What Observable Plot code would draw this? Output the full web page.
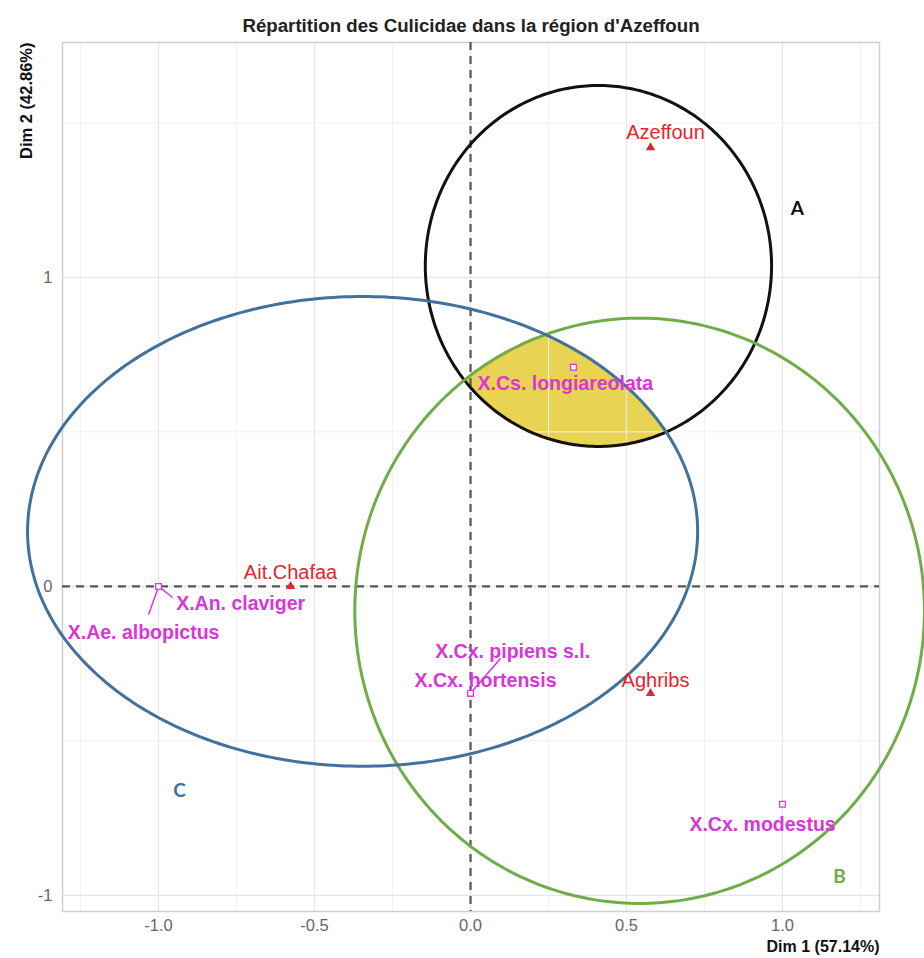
<!DOCTYPE html>
<html><head><meta charset="utf-8">
<script src="https://cdn.jsdelivr.net/npm/d3@7"></script>
<script src="https://cdn.jsdelivr.net/npm/@observablehq/plot@0.6"></script>
<style>body{margin:0;background:#fff}</style>
</head><body><div id="chart"></div>
<script>
// ---- Data ----
const titleText = "Répartition des Culicidae dans la région d'Azeffoun";
const xTitle = "Dim 1 (57.14%)";
const yTitle = "Dim 2 (42.86%)";

const xTicks = [-1, -0.5, 0, 0.5, 1];
const xMinor = [-1.25, -0.75, -0.25, 0.25, 0.75, 1.25];
const yTicks = [-1, 0, 1];
const yMinor = [-0.5, 0.5, 1.5];

const siteNames = ["Azeffoun", "Ait.Chafaa", "Aghribs"];
const siteX = [0.577, -0.577, 0.577];
const siteY = [1.42, 0.0, -0.346];
const siteLabelX = [0.625, -0.577, 0.593];
const siteLabelY = [1.469, 0.045, -0.304];

const speciesNames = ["X.Cs. longiareolata", "X.An. claviger", "X.Ae. albopictus", "X.Cx. pipiens s.l.", "X.Cx. hortensis", "X.Cx. modestus"];
const speciesX = [0.33, -1, -1, 0, 0, 1];
const speciesY = [0.709, 0, 0, -0.346, -0.346, -0.705];
const speciesLabelX = [0.304, -0.737, -1.048, 0.135, 0.048, 0.936];
const speciesLabelY = [0.657, -0.055, -0.149, -0.210, -0.304, -0.770];
const leaderEndX = [null, -0.955, -1.032, 0.096, null, null];
const leaderEndY = [null, -0.036, -0.091, -0.233, null, null];

const groupNames = ["A", "B", "C"];
const ellipseCX = [0.41, 0.542, -0.346];
const ellipseCY = [1.037, -0.079, 0.178];
const ellipseRX = [0.555, 0.913, 1.074];
const ellipseRY = [0.584, 0.947, 0.76];
const groupLabelX = [1.048, 1.183, -0.933];
const groupLabelY = [1.223, -0.939, -0.663];

const xDomain = [-1.308, 1.311];
const yDomain = [-1.052, 1.76];

// ---- Styles ----
const groupColors = ["#111111", "#70ad47", "#41719c"];
const red = "#e3262b";
const magenta = "#d936d9";
const yellow = "#e9d352";

// ---- Derived tables ----
const sites = siteNames.map((n, i) => ({name: n, x: siteX[i], y: siteY[i], lx: siteLabelX[i], ly: siteLabelY[i]}));
const species = speciesNames.map((n, i) => ({name: n, x: speciesX[i], y: speciesY[i], lx: speciesLabelX[i], ly: speciesLabelY[i], ex: leaderEndX[i], ey: leaderEndY[i]}));
const leaders = species.filter(d => d.ex != null);
const groups = groupNames.map((g, i) => ({g, cx: ellipseCX[i], cy: ellipseCY[i], rx: ellipseRX[i], ry: ellipseRY[i], lx: groupLabelX[i], ly: groupLabelY[i], color: groupColors[i]}));

const N = 360;
const ellipsePts = groups.flatMap(e => d3.range(N + 1).map(k => {
  const t = 2 * Math.PI * k / N;
  return {g: e.g, x: e.cx + e.rx * Math.cos(t), y: e.cy + e.ry * Math.sin(t)};
}));
const inside = (e, p) => ((p.x - e.cx) / e.rx) ** 2 + ((p.y - e.cy) / e.ry) ** 2 <= 1 + 1e-9;
let inter = ellipsePts.filter(p => groups.every(e => e.g === p.g || inside(e, p)));
const mx = d3.mean(inter, d => d.x), my = d3.mean(inter, d => d.y);
inter = inter.slice().sort((a, b) => Math.atan2(a.y - my, a.x - mx) - Math.atan2(b.y - my, b.x - mx));

const font = "'Liberation Sans', Arial, sans-serif";

const chart = Plot.plot({
  width: 924, height: 958,
  marginLeft: 62, marginRight: 45, marginTop: 42, marginBottom: 47,
  x: {domain: xDomain, label: null},
  y: {domain: yDomain, label: null},
  style: {fontFamily: font, background: "white", overflow: "visible"},
  marks: [
    Plot.line(inter, {x: "x", y: "y", fill: yellow, stroke: "none", curve: "linear-closed"}),
    Plot.gridX(xMinor, {stroke: "#f1f1f1", strokeOpacity: 1, strokeWidth: 1}),
    Plot.gridY(yMinor, {stroke: "#f1f1f1", strokeOpacity: 1, strokeWidth: 1}),
    Plot.gridX(xTicks, {stroke: "#e6e6e6", strokeOpacity: 1, strokeWidth: 1.2}),
    Plot.gridY(yTicks, {stroke: "#e6e6e6", strokeOpacity: 1, strokeWidth: 1.2}),
    Plot.frame({stroke: "#cfcfcf", strokeWidth: 1.5}),
    Plot.axisX({ticks: xTicks, tickFormat: d => d.toFixed(1), tickSize: 0, tickPadding: 8, fontSize: 16.5, color: "#666", label: null}),
    Plot.axisY({ticks: yTicks, tickFormat: d => String(d), tickSize: 0, tickPadding: 10, fontSize: 16.5, color: "#666", label: null}),
    Plot.ruleX([0], {stroke: "#555", strokeWidth: 2.2, strokeDasharray: "8,6"}),
    Plot.ruleY([0], {stroke: "#555", strokeWidth: 2.2, strokeDasharray: "8,6"}),
    Plot.line(ellipsePts, {x: "x", y: "y", z: "g", stroke: d => groupColors[groupNames.indexOf(d.g)], strokeWidth: 3, curve: "linear-closed"}),
    Plot.link(leaders, {x1: "x", y1: "y", x2: "ex", y2: "ey", stroke: magenta, strokeWidth: 1.5}),
    Plot.dot(sites, {x: "x", y: "y", symbol: "triangle", fill: red, r: 3.5}),
    Plot.dot(species, {x: "x", y: "y", symbol: "square", stroke: magenta, fill: "white", r: 3.2, strokeWidth: 1.2}),
    Plot.text(sites, {x: "lx", y: "ly", text: "name", fill: red, fontSize: 20}),
    Plot.text(species, {x: "lx", y: "ly", text: "name", fill: magenta, fontSize: 19.5, fontWeight: "bold"}),
    Plot.text(groups, {x: "lx", y: "ly", text: "g", fill: "color", fontSize: 19, fontWeight: "bold", fontFamily: "Lato, sans-serif"}),
    Plot.text([titleText], {frameAnchor: "top", dy: -24, fontSize: 18.7, fontWeight: "bold", fill: "#222"}),
    Plot.text([xTitle], {frameAnchor: "bottom-right", textAnchor: "end", dy: 40, fontSize: 16, fontWeight: "bold", fill: "#111"}),
    Plot.text([yTitle], {frameAnchor: "top-left", textAnchor: "end", rotate: -90, dx: -42, fontSize: 16.5, fontWeight: "bold", fill: "#111"})
  ]
});
document.getElementById("chart").appendChild(chart);
</script>
</body></html>
